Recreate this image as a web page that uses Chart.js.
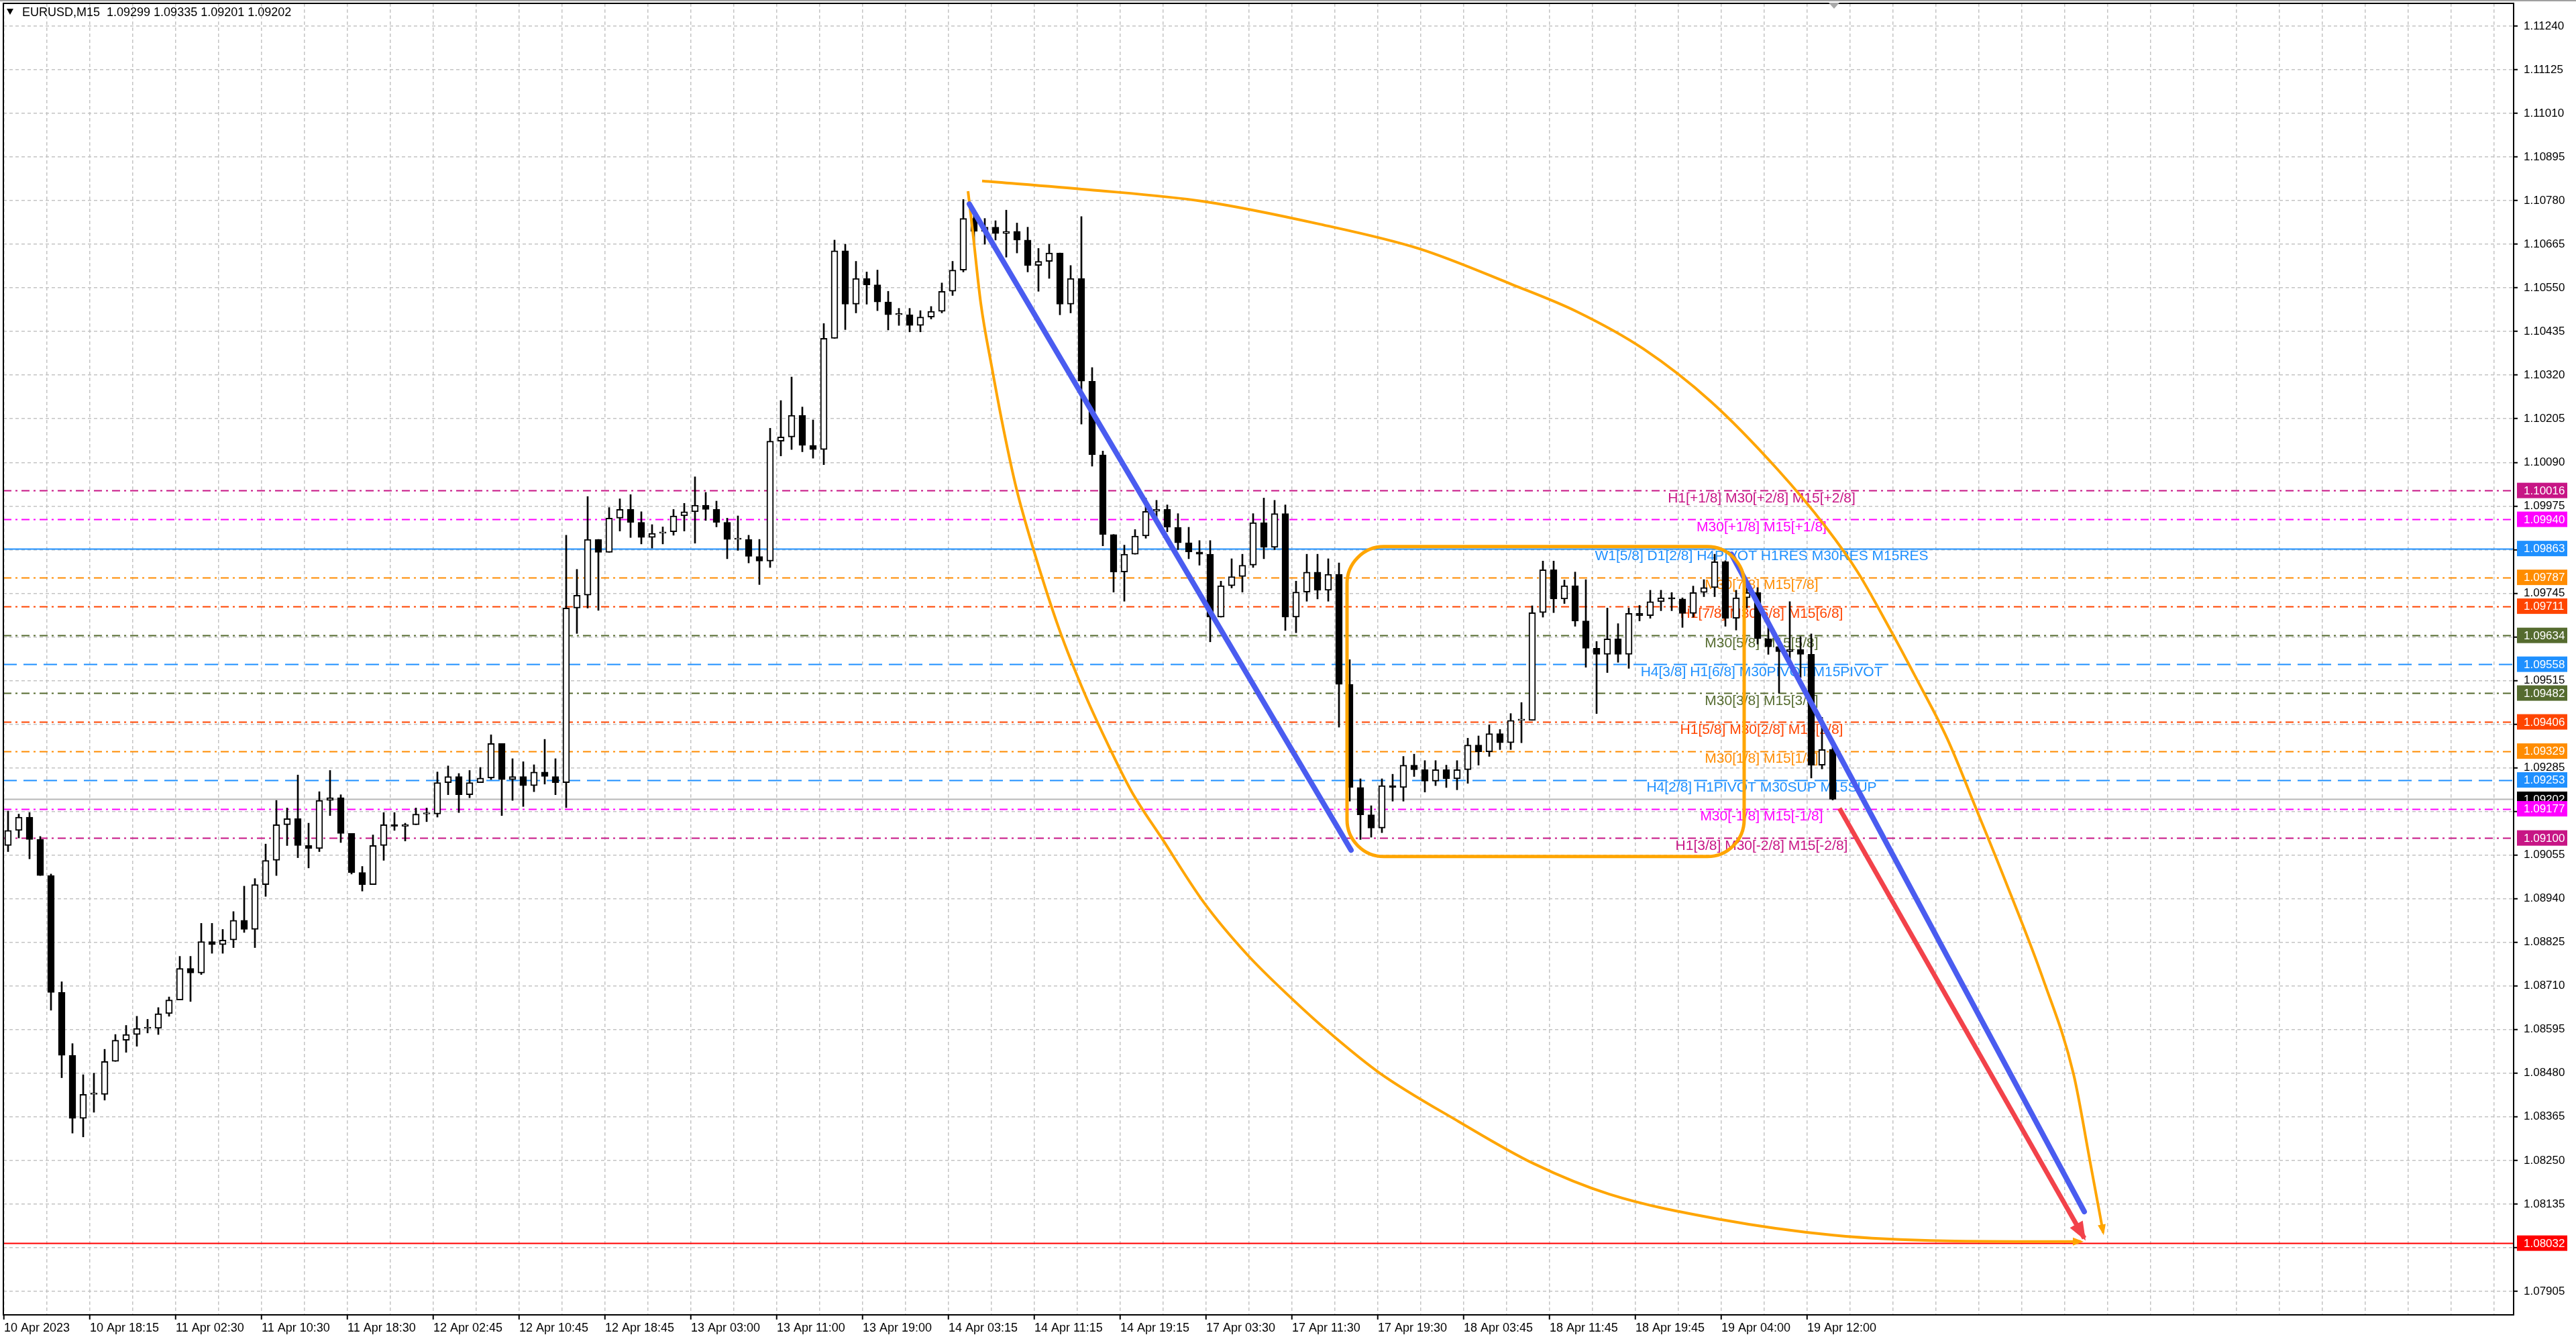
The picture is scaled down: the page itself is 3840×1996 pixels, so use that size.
<!DOCTYPE html>
<html><head><meta charset="utf-8">
<script src="https://cdn.jsdelivr.net/npm/chart.js@4.4.1/dist/chart.umd.min.js"></script>
<style>html,body{margin:0;padding:0;background:#fff;overflow:hidden}canvas{display:block}</style>
</head><body>
<canvas id="c" width="3840" height="1996" style="width:3840px;height:1996px"></canvas>
<script>
// ===== DATA (EURUSD M15, aggregated to hourly candles: group j covers M15 bars 4j..4j+3) =====
const headerText = 'EURUSD,M15  1.09299 1.09335 1.09201 1.09202';
const firstOpen = 1.09080;
const candleHigh = [
1.09171,1.09163,1.09167,1.09104,1.09005,1.08721,1.08558,1.08476,1.08480,1.08543,
1.08582,1.08606,1.08630,1.08622,1.08653,1.08681,1.08788,1.08788,1.08875,1.08875,
1.08859,1.08906,1.08973,1.08993,1.09084,1.09199,1.09179,1.09266,1.09139,1.09222,
1.09278,1.09214,1.09112,1.09025,1.09108,1.09167,1.09167,1.09139,1.09179,1.09179,
1.09274,1.09290,1.09270,1.09278,1.09286,1.09372,1.09341,1.09309,1.09301,1.09293,
1.09360,1.09309,1.09898,1.09808,1.10000,1.09875,1.09971,1.09994,1.10005,1.09960,
1.09926,1.09920,1.09966,1.09982,1.10052,1.10011,1.09988,1.09943,1.09949,1.09898,
1.09887,1.10180,1.10253,1.10315,1.10236,1.10202,1.10456,1.10676,1.10665,1.10620,
1.10592,1.10597,1.10541,1.10496,1.10496,1.10490,1.10501,1.10563,1.10620,1.10783,
1.10744,1.10733,1.10727,1.10755,1.10721,1.10710,1.10654,1.10665,1.10642,1.10609,
1.10738,1.10340,1.10120,1.09896,1.09872,1.09913,1.09996,1.09990,1.09978,1.09955,
1.09919,1.09884,1.09884,1.09777,1.09836,1.09848,1.09955,1.09996,1.09990,1.09978,
1.09777,1.09848,1.09848,1.09836,1.09825,1.09570,1.09256,1.09185,1.09256,1.09268,
1.09315,1.09321,1.09304,1.09304,1.09292,1.09304,1.09363,1.09369,1.09398,1.09386,
1.09428,1.09457,1.09712,1.09830,1.09830,1.09780,1.09801,1.09781,1.09618,1.09706,
1.09665,1.09706,1.09713,1.09753,1.09753,1.09747,1.09733,1.09764,1.09781,1.09848,
1.09831,1.09753,1.09764,1.09760,1.09679,1.09625,1.09723,1.09631,1.09638,1.09418,
1.09340];
const candleLow = [
1.09064,1.09100,1.09045,1.09001,1.08646,1.08468,1.08322,1.08312,1.08377,1.08409,
1.08515,1.08535,1.08551,1.08586,1.08582,1.08630,1.08677,1.08669,1.08740,1.08796,
1.08796,1.08811,1.08851,1.08811,1.08946,1.09001,1.09080,1.09048,1.09021,1.09064,
1.09159,1.09088,1.09005,1.08960,1.08993,1.09041,1.09120,1.09092,1.09139,1.09143,
1.09155,1.09214,1.09167,1.09206,1.09250,1.09254,1.09159,1.09199,1.09183,1.09222,
1.09242,1.09214,1.09180,1.09639,1.09706,1.09700,1.09875,1.09909,1.09892,1.09875,
1.09864,1.09875,1.09898,1.09909,1.09877,1.09937,1.09920,1.09836,1.09858,1.09825,
1.09768,1.09813,1.10107,1.10124,1.10118,1.10101,1.10084,1.10434,1.10440,1.10484,
1.10507,1.10490,1.10439,1.10451,1.10434,1.10434,1.10468,1.10484,1.10530,1.10592,
1.10665,1.10665,1.10676,1.10631,1.10642,1.10592,1.10541,1.10575,1.10479,1.10484,
1.10191,1.10080,1.09870,1.09748,1.09724,1.09848,1.09890,1.09937,1.09907,1.09860,
1.09836,1.09819,1.09617,1.09682,1.09759,1.09748,1.09813,1.09836,1.09860,1.09647,
1.09641,1.09724,1.09730,1.09724,1.09392,1.09197,1.09096,1.09102,1.09114,1.09197,
1.09197,1.09262,1.09221,1.09238,1.09233,1.09227,1.09244,1.09292,1.09315,1.09333,
1.09333,1.09351,1.09422,1.09682,1.09694,1.09718,1.09658,1.09550,1.09428,1.09536,
1.09563,1.09547,1.09672,1.09679,1.09699,1.09699,1.09655,1.09682,1.09736,1.09736,
1.09658,1.09648,1.09706,1.09611,1.09584,1.09482,1.09567,1.09523,1.09258,1.09282,
1.09200];
const candleClose = [
1.09120,1.09155,1.09096,1.09001,1.08693,1.08527,1.08361,1.08424,1.08424,1.08511,
1.08567,1.08582,1.08598,1.08598,1.08637,1.08673,1.08756,1.08744,1.08827,1.08819,
1.08831,1.08883,1.08859,1.08977,1.09041,1.09135,1.09151,1.09080,1.09072,1.09199,
1.09206,1.09112,1.09009,1.08977,1.09080,1.09135,1.09131,1.09135,1.09163,1.09163,
1.09246,1.09262,1.09214,1.09246,1.09258,1.09349,1.09254,1.09262,1.09238,1.09274,
1.09262,1.09246,1.09706,1.09740,1.09887,1.09853,1.09943,1.09966,1.09932,1.09892,
1.09903,1.09907,1.09949,1.09960,1.09977,1.09966,1.09932,1.09887,1.09887,1.09842,
1.09830,1.10146,1.10157,1.10214,1.10135,1.10124,1.10417,1.10648,1.10507,1.10575,
1.10558,1.10513,1.10479,1.10479,1.10451,1.10473,1.10488,1.10541,1.10597,1.10733,
1.10699,1.10710,1.10693,1.10699,1.10676,1.10609,1.10620,1.10642,1.10507,1.10575,
1.10304,1.10110,1.09900,1.09801,1.09848,1.09896,1.09961,1.09966,1.09919,1.09878,
1.09854,1.09848,1.09682,1.09765,1.09789,1.09819,1.09931,1.09866,1.09955,1.09682,
1.09748,1.09801,1.09753,1.09795,1.09505,1.09233,1.09161,1.09126,1.09238,1.09233,
1.09292,1.09280,1.09250,1.09280,1.09256,1.09280,1.09345,1.09327,1.09375,1.09351,
1.09410,1.09410,1.09694,1.09807,1.09730,1.09765,1.09672,1.09600,1.09584,1.09625,
1.09584,1.09692,1.09686,1.09723,1.09733,1.09730,1.09692,1.09747,1.09760,1.09828,
1.09679,1.09733,1.09747,1.09625,1.09604,1.09591,1.09597,1.09584,1.09292,1.09333,
1.09202];

// time axis labels: one label every 32 M15 bars starting at bar 0
const xTickLabels = ['10 Apr 2023','10 Apr 18:15','11 Apr 02:30','11 Apr 10:30','11 Apr 18:30','12 Apr 02:45',
  '12 Apr 10:45','12 Apr 18:45','13 Apr 03:00','13 Apr 11:00','13 Apr 19:00','14 Apr 03:15','14 Apr 11:15',
  '14 Apr 19:15','17 Apr 03:30','17 Apr 11:30','17 Apr 19:30','18 Apr 03:45','18 Apr 11:45','18 Apr 19:45',
  '19 Apr 04:00','19 Apr 12:00'];
const xLabelEvery = 32, xGridEvery = 16, xLastGrid = 928;

// price axis
const yTickValues = [1.07905,1.08020,1.08135,1.08250,1.08365,1.08480,1.08595,1.08710,1.08825,1.08940,
  1.09055,1.09170,1.09285,1.09400,1.09515,1.09630,1.09745,1.09860,1.09975,1.10090,1.10205,1.10320,
  1.10435,1.10550,1.10665,1.10780,1.10895,1.11010,1.11125,1.11240];
const yHiddenTicks = [1.08020,1.09170,1.09400,1.09630,1.09860];
const yMin = 1.07843, yMax = 1.11300, xMin = -0.25, xMax = 935.25;

// Murrey / pivot levels
const levelPrices = [1.10016,1.09940,1.09863,1.09787,1.09711,1.09634,1.09558,1.09482,1.09406,1.09329,1.09253,1.09177,1.09100];
const levelTexts = ['H1[+1/8] M30[+2/8] M15[+2/8]','M30[+1/8] M15[+1/8]','W1[5/8] D1[2/8] H4PIVOT H1RES M30RES M15RES',
  'M30[7/8] M15[7/8]','H1[7/8] M30[6/8] M15[6/8]','M30[5/8] M15[5/8]','H4[3/8] H1[6/8] M30PIVOT M15PIVOT',
  'M30[3/8] M15[3/8]','H1[5/8] M30[2/8] M15[2/8]','M30[1/8] M15[1/8]','H4[2/8] H1PIVOT M30SUP M15SUP',
  'M30[-1/8] M15[-1/8]','H1[3/8] M30[-2/8] M15[-2/8]'];
const levelLabelBar = 655;
const currentPrice = 1.09202;
const targetPrice = 1.08032;

// drawn objects (bar index, price)
const blueLine1 = [[359.75,1.10771],[502.0,1.09068]];
const blueLine2 = [[643.75,1.09848],[775.25,1.08115]];
const redArrow  = [[684.0,1.09178],[775.25,1.08045]];
const orangeArcLow = [[359.25,1.10805],[361.0,1.10699],[364.0,1.10510],[368.25,1.10336],[372.5,1.10177],[377.25,1.10022],
  [383.5,1.09864],[393.25,1.09650],[402.75,1.09480],[412.25,1.09334],[420.25,1.09222],[431.5,1.09099],[447.25,1.08929],
  [463.25,1.08793],[479.25,1.08681],[495.25,1.08579],[512.75,1.08480],[542.25,1.08352],[570.25,1.08241],[598.25,1.08161],
  [640.0,1.08094],[681.75,1.08053],[723.75,1.08038],[774.0,1.08036]];
const orangeArcHigh = [[364.5,1.10832],[404.0,1.10809],[447.0,1.10778],[490.3,1.10718],[527.5,1.10653],[562.0,1.10559],
  [586.0,1.10488],[611.0,1.10389],[636.0,1.10251],[661.0,1.10071],[679.0,1.09919],[690.8,1.09801],[701.8,1.09664],
  [713.0,1.09516],[724.3,1.09360],[735.3,1.09171],[746.0,1.08984],[760.0,1.08726],[771.3,1.08476],[777.3,1.08251],
  [782.3,1.08060]];
const boxBars = [500.5, 648.5];
const boxPrices = [1.09868, 1.09051];
const shiftMarkerBar = 682;

// ===== STYLES =====
const FONT = '"Liberation Sans", Arial, sans-serif';
const DASH = {solid: [], dash: [20, 10], dashdot: [12, 6, 3, 6]};
const levelColors = ['#C71585','#FF00FF','#1E90FF','#FF8C00','#FF4500','#556B2F','#1E90FF','#556B2F','#FF4500','#FF8C00','#1E90FF','#FF00FF','#C71585'];
const levelDash = ['dashdot','dashdot','solid','dashdot','dashdot','dashdot','dash','dashdot','dashdot','dashdot','dash','dashdot','dashdot'];
const ORANGE = '#FFA500', BLUE = '#4a5cf0', RED = '#f2424a';

// ===== BUILD =====
const candleX = candleClose.map((_, j) => 4 * j + 1.5);
const candleOpen = candleClose.map((c, j) => j === 0 ? firstOpen : candleClose[j - 1]);
const wicks = candleX.map((x, j) => ({x, y: [Math.min(candleLow[j], candleOpen[j], candleClose[j]), Math.max(candleHigh[j], candleOpen[j], candleClose[j])]}));
const bodies = candleX.map((x, j) => ({x, y: [candleOpen[j], candleClose[j]]}));
const bodyColors = candleX.map((_, j) => candleClose[j] >= candleOpen[j] ? '#ffffff' : '#000000');
const pts = arr => arr.map(p => ({x: p[0], y: p[1]}));

Chart.defaults.font.family = FONT;

const levelPlugin = {
  id: 'levels',
  beforeDatasetsDraw(chart) {
    const {ctx, chartArea: a, scales: {x, y}} = chart;
    ctx.save();
    ctx.beginPath(); ctx.rect(a.left, a.top, a.right - a.left, a.bottom - a.top); ctx.clip();
    const hline = (price, color, dash, w) => {
      const py = Math.round(y.getPixelForValue(price)) + 0.5;
      ctx.strokeStyle = color; ctx.lineWidth = w; ctx.setLineDash(dash);
      ctx.beginPath(); ctx.moveTo(a.left, py); ctx.lineTo(a.right, py); ctx.stroke();
    };
    hline(currentPrice, '#b8b8b8', [], 2);
    hline(targetPrice, '#ff0000', [], 2);
    levelPrices.forEach((p, i) => hline(p, levelColors[i], DASH[levelDash[i]], 2));
    ctx.setLineDash([]);
    ctx.font = '21px ' + FONT; ctx.textAlign = 'center'; ctx.textBaseline = 'middle';
    const tx = x.getPixelForValue(levelLabelBar);
    levelPrices.forEach((p, i) => {
      ctx.fillStyle = levelColors[i];
      ctx.fillText(levelTexts[i], tx, y.getPixelForValue(p) + 12);
    });
    ctx.restore();
  }
};

const overlayPlugin = {
  id: 'overlay',
  afterDatasetsDraw(chart) {
    const {ctx, chartArea: a, scales: {x, y}} = chart;
    ctx.save();
    ctx.beginPath(); ctx.rect(a.left, a.top, a.right - a.left, a.bottom - a.top); ctx.clip();
    // rounded rectangle
    const x0 = x.getPixelForValue(boxBars[0]), x1 = x.getPixelForValue(boxBars[1]);
    const y0 = y.getPixelForValue(boxPrices[0]), y1 = y.getPixelForValue(boxPrices[1]);
    const r = 55;
    ctx.strokeStyle = ORANGE; ctx.lineWidth = 5;
    ctx.beginPath();
    ctx.moveTo(x0 + r, y0); ctx.arcTo(x1, y0, x1, y1, r); ctx.arcTo(x1, y1, x0, y1, r);
    ctx.arcTo(x0, y1, x0, y0, r); ctx.arcTo(x0, y0, x1, y0, r); ctx.closePath(); ctx.stroke();
    // arrow heads
    chart.data.datasets.forEach((ds, i) => {
      if (!ds.arrowHead) return;
      const meta = chart.getDatasetMeta(i);
      const n = meta.data.length;
      const last = meta.data[n - 1];
      let px, py;
      if (last.cp1x !== undefined && (Math.abs(last.cp1x - last.x) + Math.abs(last.cp1y - last.y)) > 1) { px = last.cp1x; py = last.cp1y; }
      else { px = meta.data[n - 2].x; py = meta.data[n - 2].y; }
      const ang = Math.atan2(last.y - py, last.x - px);
      const L = ds.arrowHead.len, W = ds.arrowHead.w / 2;
      const tipX = last.x + Math.cos(ang) * 4, tipY = last.y + Math.sin(ang) * 4;
      ctx.fillStyle = ds.borderColor;
      ctx.beginPath();
      ctx.moveTo(tipX, tipY);
      ctx.lineTo(tipX - L * Math.cos(ang) + W * Math.sin(ang), tipY - L * Math.sin(ang) - W * Math.cos(ang));
      ctx.lineTo(tipX - L * Math.cos(ang) - W * Math.sin(ang), tipY - L * Math.sin(ang) + W * Math.cos(ang));
      ctx.closePath(); ctx.fill();
    });
    ctx.restore();
    // frame
    ctx.save();
    ctx.strokeStyle = '#000'; ctx.lineWidth = 2;
    ctx.strokeRect(a.left, a.top, a.right - a.left, a.bottom - a.top);
    ctx.restore();
  },
  afterDraw(chart) {
    const {ctx, chartArea: a, scales: {x, y}} = chart;
    ctx.save();
    // price boxes on the right axis
    ctx.font = '17px ' + FONT; ctx.textAlign = 'left'; ctx.textBaseline = 'middle';
    const box = (price, color) => {
      const py = y.getPixelForValue(price);
      ctx.fillStyle = color; ctx.fillRect(a.right + 5, py - 11.5, 75, 23);
      ctx.fillStyle = '#ffffff'; ctx.fillText(price.toFixed(5), a.right + 15, py + 1);
    };
    box(currentPrice, '#000000');
    levelPrices.forEach((p, i) => box(p, levelColors[i]));
    box(targetPrice, '#ff0000');
    // header
    ctx.fillStyle = '#000';
    ctx.beginPath(); ctx.moveTo(10, 13); ctx.lineTo(20, 13); ctx.lineTo(15, 22); ctx.closePath(); ctx.fill();
    ctx.font = '18px ' + FONT; ctx.textBaseline = 'middle';
    ctx.fillText(headerText, 33, 19);
    // chart shift marker
    const sx = x.getPixelForValue(shiftMarkerBar);
    ctx.fillStyle = '#a8a8a8';
    ctx.beginPath(); ctx.moveTo(sx - 8, a.top - 1); ctx.lineTo(sx + 8, a.top - 1); ctx.lineTo(sx, a.top + 8); ctx.closePath(); ctx.fill();
    // window top edge
    ctx.fillStyle = '#a0a0a0'; ctx.fillRect(0, 0, chart.width, 2);
    ctx.restore();
  },
  beforeDraw(chart) {
    const {ctx} = chart;
    ctx.save(); ctx.fillStyle = '#fff'; ctx.fillRect(0, 0, chart.width, chart.height); ctx.restore();
  }
};

new Chart(document.getElementById('c'), {
  type: 'bar',
  data: {
    datasets: [
      {type: 'line', data: pts(redArrow), borderColor: RED, borderWidth: 7, pointRadius: 0, order: 1, arrowHead: {len: 28, w: 22}},
      {type: 'line', data: pts(blueLine1), borderColor: BLUE, borderWidth: 8, borderCapStyle: 'round', pointRadius: 0, order: 2},
      {type: 'line', data: pts(blueLine2), borderColor: BLUE, borderWidth: 8, borderCapStyle: 'round', pointRadius: 0, order: 2},
      {type: 'line', data: pts(orangeArcLow), borderColor: ORANGE, borderWidth: 4, pointRadius: 0, cubicInterpolationMode: 'monotone', order: 3, arrowHead: {len: 16, w: 12}},
      {type: 'line', data: pts(orangeArcHigh), borderColor: ORANGE, borderWidth: 4, pointRadius: 0, cubicInterpolationMode: 'monotone', order: 3, arrowHead: {len: 16, w: 12}},
      {type: 'bar', data: bodies, barThickness: 10, backgroundColor: bodyColors, borderColor: '#000', borderWidth: 2, borderSkipped: false, minBarLength: 2, grouped: false, order: 10},
      {type: 'bar', data: wicks, barThickness: 2, backgroundColor: '#000', borderWidth: 0, grouped: false, order: 11}
    ]
  },
  options: {
    responsive: false, animation: false, devicePixelRatio: 1, events: [],
    layout: {padding: {left: 5, top: 5, right: 0, bottom: 0}},
    plugins: {legend: {display: false}, tooltip: {enabled: false}},
    scales: {
      x: {
        type: 'linear', min: xMin, max: xMax, offset: false,
        afterBuildTicks: s => { const t = []; for (let v = 0; v <= xLastGrid; v += xGridEvery) t.push({value: v}); s.ticks = t; },
        afterFit: s => { s.height = 36; s.paddingLeft = 0; s.paddingRight = 0; s.paddingTop = 0; s.paddingBottom = 0; },
        ticks: {autoSkip: false, maxRotation: 0, minRotation: 0, align: 'start', padding: 2, color: '#000', font: {size: 18},
          callback: v => (v % xLabelEvery === 0 && xTickLabels[v / xLabelEvery]) ? xTickLabels[v / xLabelEvery] : ''},
        grid: {offset: false, color: '#c4c4c4', lineWidth: 1.5, tickLength: 7, tickWidth: 2,
          tickColor: c => (c.tick && c.tick.value % xLabelEvery === 0 && c.tick.value <= 672) ? '#000' : 'rgba(0,0,0,0)'},
        border: {display: false, dash: [5, 4]}
      },
      y: {
        type: 'linear', position: 'right', min: yMin, max: yMax,
        afterBuildTicks: s => { s.ticks = yTickValues.map(v => ({value: v})); },
        afterFit: s => { s.width = 93; s.paddingTop = 0; s.paddingBottom = 0; s.paddingLeft = 0; s.paddingRight = 0; },
        ticks: {autoSkip: false, padding: 9, color: '#000', font: {size: 17},
          callback: v => yHiddenTicks.some(h => Math.abs(h - v) < 1e-7) ? '' : v.toFixed(5)},
        grid: {color: '#c4c4c4', lineWidth: 1.5, tickLength: 6, tickWidth: 2, tickColor: '#000'},
        border: {display: false, dash: [5, 4]}
      }
    }
  },
  plugins: [levelPlugin, overlayPlugin]
});
</script>
</body></html>
